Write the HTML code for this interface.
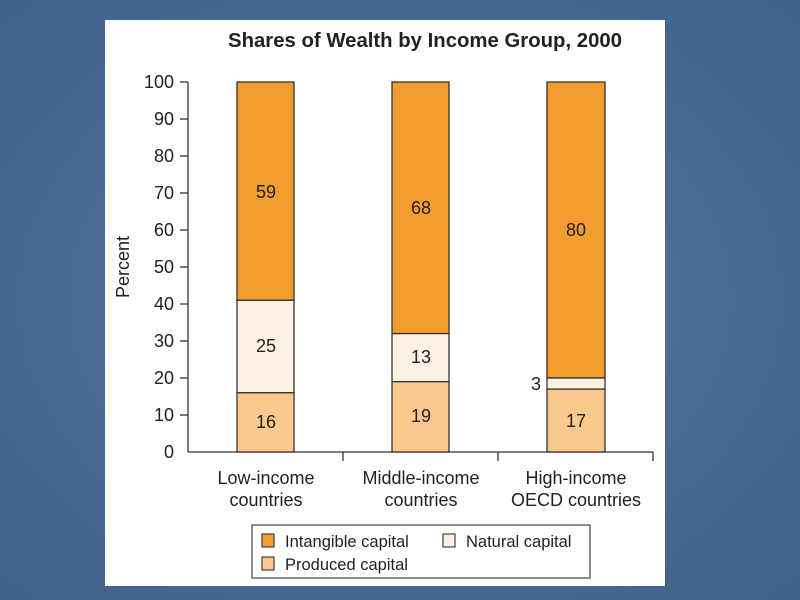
<!DOCTYPE html>
<html><head><style>
body{margin:0;width:800px;height:600px;background:#4b6f96;overflow:hidden}
svg{position:absolute;left:0;top:0}
</style></head><body>
<svg width="800" height="600" xmlns="http://www.w3.org/2000/svg" font-family="Liberation Sans, sans-serif">
<defs><radialGradient id="g" cx="50%" cy="50%" r="70%"><stop offset="0" stop-color="#5479a2"/><stop offset="1" stop-color="#3f628a"/></radialGradient></defs>
<rect width="800" height="600" fill="url(#g)"/>
<rect x="105" y="20" width="560" height="566" fill="#fff"/>
<text x="425" y="47" text-anchor="middle" font-size="20.5" font-weight="bold" fill="#222" textLength="394" lengthAdjust="spacingAndGlyphs">Shares of Wealth by Income Group, 2000</text>
<g stroke="#333" stroke-width="1.3" fill="none">
<line x1="188" y1="82" x2="188" y2="452"/>
<line x1="188" y1="452" x2="653" y2="452"/>
<line x1="343" y1="452" x2="343" y2="461"/>
<line x1="498" y1="452" x2="498" y2="461"/>
<line x1="653" y1="452" x2="653" y2="461"/>
</g>
<g stroke="#333" stroke-width="1.3">
<line x1="180" y1="82" x2="188" y2="82"/><line x1="180" y1="119" x2="188" y2="119"/><line x1="180" y1="156" x2="188" y2="156"/><line x1="180" y1="193" x2="188" y2="193"/><line x1="180" y1="230" x2="188" y2="230"/><line x1="180" y1="267" x2="188" y2="267"/><line x1="180" y1="304" x2="188" y2="304"/><line x1="180" y1="341" x2="188" y2="341"/><line x1="180" y1="378" x2="188" y2="378"/><line x1="180" y1="415" x2="188" y2="415"/>
</g>
<g font-size="18" fill="#222" text-anchor="end">
<text x="174" y="88">100</text><text x="174" y="125">90</text><text x="174" y="162">80</text><text x="174" y="199">70</text><text x="174" y="236">60</text><text x="174" y="273">50</text><text x="174" y="310">40</text><text x="174" y="347">30</text><text x="174" y="384">20</text><text x="174" y="421">10</text><text x="174" y="458">0</text>
</g>
<text transform="translate(129,267) rotate(-90)" text-anchor="middle" font-size="18" fill="#222">Percent</text>
<g stroke="#333" stroke-width="1.3">
<rect x="237" y="82" width="57" height="218.3" fill="#f39c2f"/>
<rect x="237" y="300.3" width="57" height="92.5" fill="#fdf1e3"/>
<rect x="237" y="392.8" width="57" height="59.2" fill="#fbc88e"/>
<rect x="392" y="82" width="57" height="251.6" fill="#f39c2f"/>
<rect x="392" y="333.6" width="57" height="48.1" fill="#fdf1e3"/>
<rect x="392" y="381.7" width="57" height="70.3" fill="#fbc88e"/>
<rect x="547" y="82" width="58" height="296" fill="#f39c2f"/>
<rect x="547" y="378" width="58" height="11.1" fill="#fdf1e3"/>
<rect x="547" y="389.1" width="58" height="62.9" fill="#fbc88e"/>
</g>
<g font-size="18" fill="#222" text-anchor="middle">
<text x="266" y="198">59</text><text x="266" y="352">25</text><text x="266" y="428">16</text>
<text x="421" y="214">68</text><text x="421" y="363">13</text><text x="421" y="422">19</text>
<text x="576" y="236">80</text><text x="536" y="390">3</text><text x="576" y="427">17</text>
<text x="266" y="484">Low-income</text><text x="266" y="506">countries</text>
<text x="421" y="484">Middle-income</text><text x="421" y="506">countries</text>
<text x="576" y="484">High-income</text><text x="576" y="506">OECD countries</text>
</g>
<rect x="252" y="525" width="338" height="53" fill="#fff" stroke="#444" stroke-width="1.2"/>
<g stroke="#333" stroke-width="1.1">
<rect x="262" y="534" width="12" height="13" fill="#f39c2f"/>
<rect x="443" y="534" width="12" height="13" fill="#fdf1e3"/>
<rect x="262" y="557" width="12" height="13" fill="#fbc88e"/>
</g>
<g font-size="16.5" fill="#222">
<text x="285" y="547">Intangible capital</text>
<text x="466" y="547">Natural capital</text>
<text x="285" y="570">Produced capital</text>
</g>
</svg>
</body></html>
